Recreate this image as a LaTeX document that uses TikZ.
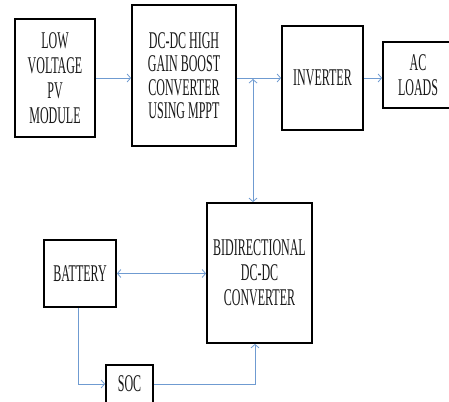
\documentclass[tikz,border=0pt]{standalone}
\usepackage{fontspec}
\setmainfont{Liberation Serif}[FakeStretch=0.5]
\usetikzlibrary{arrows.meta}
\definecolor{linkblue}{HTML}{6F9BD1}
\tikzset{
  blockbox/.style={draw=black, line width=1.8pt, fill=white, align=center, inner sep=0pt,
    font=\fontsize{24}{25}\selectfont, text=black!90},
  link/.style={draw=linkblue, line width=0.8pt, -{Straight Barb[length=3.5pt,width=8pt]}},
  dlink/.style={draw=linkblue, line width=0.8pt, {Straight Barb[length=3.5pt,width=8pt]}-{Straight Barb[length=3.5pt,width=8pt]}}
}
\begin{document}
\begin{tikzpicture}[x=1pt,y=-1pt]
\useasboundingbox (0,0) rectangle (449,401);
\clip (0,0) rectangle (449,401);
\node[blockbox, minimum width=80pt, minimum height=118pt] (pv) at (55,78) {LOW\\VOLTAGE\\PV\\MODULE};
\node[blockbox, minimum width=104pt, minimum height=141pt, font=\fontsize{24}{23.5}\selectfont] (dc) at (184,75.5) {DC-DC HIGH\\GAIN BOOST\\CONVERTER\\USING MPPT};
\node[blockbox, minimum width=81pt, minimum height=104pt] (inv) at (322.5,78) {INVERTER};
\node[blockbox, minimum width=70pt, minimum height=66pt] (ac) at (418,75) {AC\\LOADS};
\node[blockbox, minimum width=105pt, minimum height=140pt] (bd) at (259.5,273) {BIDIRECTIONAL\\DC-DC\\CONVERTER};
\node[blockbox, minimum width=72pt, minimum height=67pt] (bat) at (80,273.5) {BATTERY};
\node[blockbox, minimum width=47pt, minimum height=38pt] (soc) at (129.5,384) {SOC};
\coordinate (j) at (253,79);
\draw[link] (pv.east) -- (pv.east -| dc.west);
\draw[link] (inv.west -| dc.east) -- (inv.west);
\draw[link] (inv.east) -- (inv.east -| ac.west);
\draw[dlink] (j) -- (j |- bd.north);
\draw[dlink] (bat.east) -- (bat.east -| bd.west);
\draw[link] ([xshift=-2pt]bat.south) |- (soc.west);
\draw[link] (soc.east) -| ([xshift=-4.5pt]bd.south);
\end{tikzpicture}
\end{document}
